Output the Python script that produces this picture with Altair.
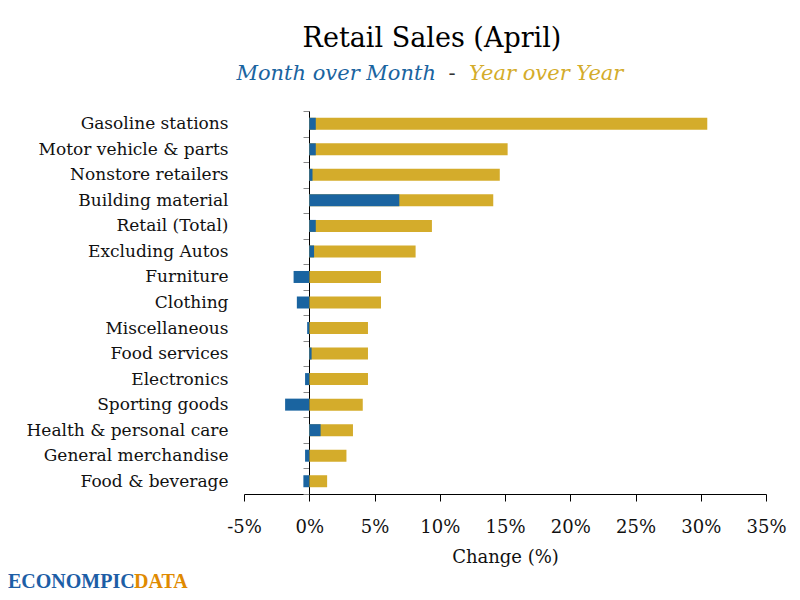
import altair as alt
import pandas as pd

categories = [
    "Gasoline stations", "Motor vehicle & parts", "Nonstore retailers",
    "Building material", "Retail (Total)", "Excluding Autos", "Furniture",
    "Clothing", "Miscellaneous", "Food services", "Electronics",
    "Sporting goods", "Health & personal care", "General merchandise",
    "Food & beverage",
]
mom = [0.5, 0.5, 0.25, 6.9, 0.5, 0.37, -1.2, -0.95, -0.16, 0.18, -0.32, -1.85, 0.87, -0.32, -0.45]
yoy = [30.5, 15.2, 14.6, 14.1, 9.4, 8.15, 5.5, 5.5, 4.5, 4.5, 4.5, 4.1, 3.35, 2.85, 1.37]
x_ticks = [-5, 0, 5, 10, 15, 20, 25, 30, 35]

title_text = ["Retail Sales (April)"]
sub_mom = ["Month over Month"]
sub_sep = ["-"]
sub_yoy = ["Year over Year"]
logo_a = ["ECONOMPIC"]
logo_b = ["DATA"]

BLUE = "#1A64A0"
GOLD = "#D4AC2B"
FONT = "DejaVu Serif"
W, H = 522, 383

df = pd.DataFrame({"category": categories, "mom": mom, "yoy": yoy})

x_scale = alt.Scale(domain=[-5, 35], nice=False, zero=False)
x_axis = alt.Axis(
    values=x_ticks, labelExpr="datum.value + '%'", grid=False,
    domainColor="#000", tickColor="#000", tickSize=7, labelPadding=17,
    labelFlush=False,
    labelFont=FONT, labelFontSize=18, labelColor="#111",
    title="Change (%)", titleFont=FONT, titleFontSize=18,
    titleFontWeight="normal", titleColor="#111", titlePadding=12,
)
y_enc = alt.Y(
    "category:N", sort=categories, title=None,
    scale=alt.Scale(paddingInner=0, paddingOuter=0),
    axis=alt.Axis(
        offset=-65, domainColor="#000", tickColor="#888", tickSize=6,
        tickBand="extent", labelPadding=75, labelFont=FONT,
        labelFontSize=17, labelColor="#111", labelLimit=300,
    ),
)

base = alt.Chart(df)
gold_bars = base.mark_bar(size=12, color=GOLD).encode(
    x=alt.X("yoy:Q", scale=x_scale, axis=x_axis),
    x2=alt.datum(0),
    y=y_enc,
)
blue_bars = base.mark_bar(size=12, color=BLUE).encode(
    x=alt.X("mom:Q", scale=x_scale, axis=x_axis),
    x2=alt.datum(0),
    y=y_enc,
)


def txt(values, x, y, size, color, align, style="normal", weight="normal", font=FONT):
    return alt.Chart(pd.DataFrame({"t": values})).mark_text(
        font=font, fontSize=size, color=color, align=align,
        baseline="alphabetic", fontStyle=style, fontWeight=weight,
    ).encode(x=alt.value(x), y=alt.value(y), text="t:N")


title = txt(title_text, 188, -64, 27, "#000", "center")
s1 = txt(sub_mom, 192, -31, 21, BLUE, "right", style="italic")
s2 = txt(sub_sep, 208, -31, 21, "#333", "center")
s3 = txt(sub_yoy, 225, -31, 21, GOLD, "left", style="italic")
l1 = txt(logo_a, -236, 477, 20, "#1D5EA6", "left", weight="bold", font="Liberation Serif")
l2 = txt(logo_b, -110, 477, 20, "#E08A00", "left", weight="bold", font="Liberation Serif")

chart = alt.layer(gold_bars, blue_bars, title, s1, s2, s3, l1, l2).properties(
    width=W, height=H,
    autosize=alt.AutoSizeParams(type="none"),
    padding={"left": 236, "top": 103, "right": 26, "bottom": 98},
).configure(background="white").configure_view(stroke=None)

chart.save("out.html", embed_options={"renderer": "svg", "actions": False})
